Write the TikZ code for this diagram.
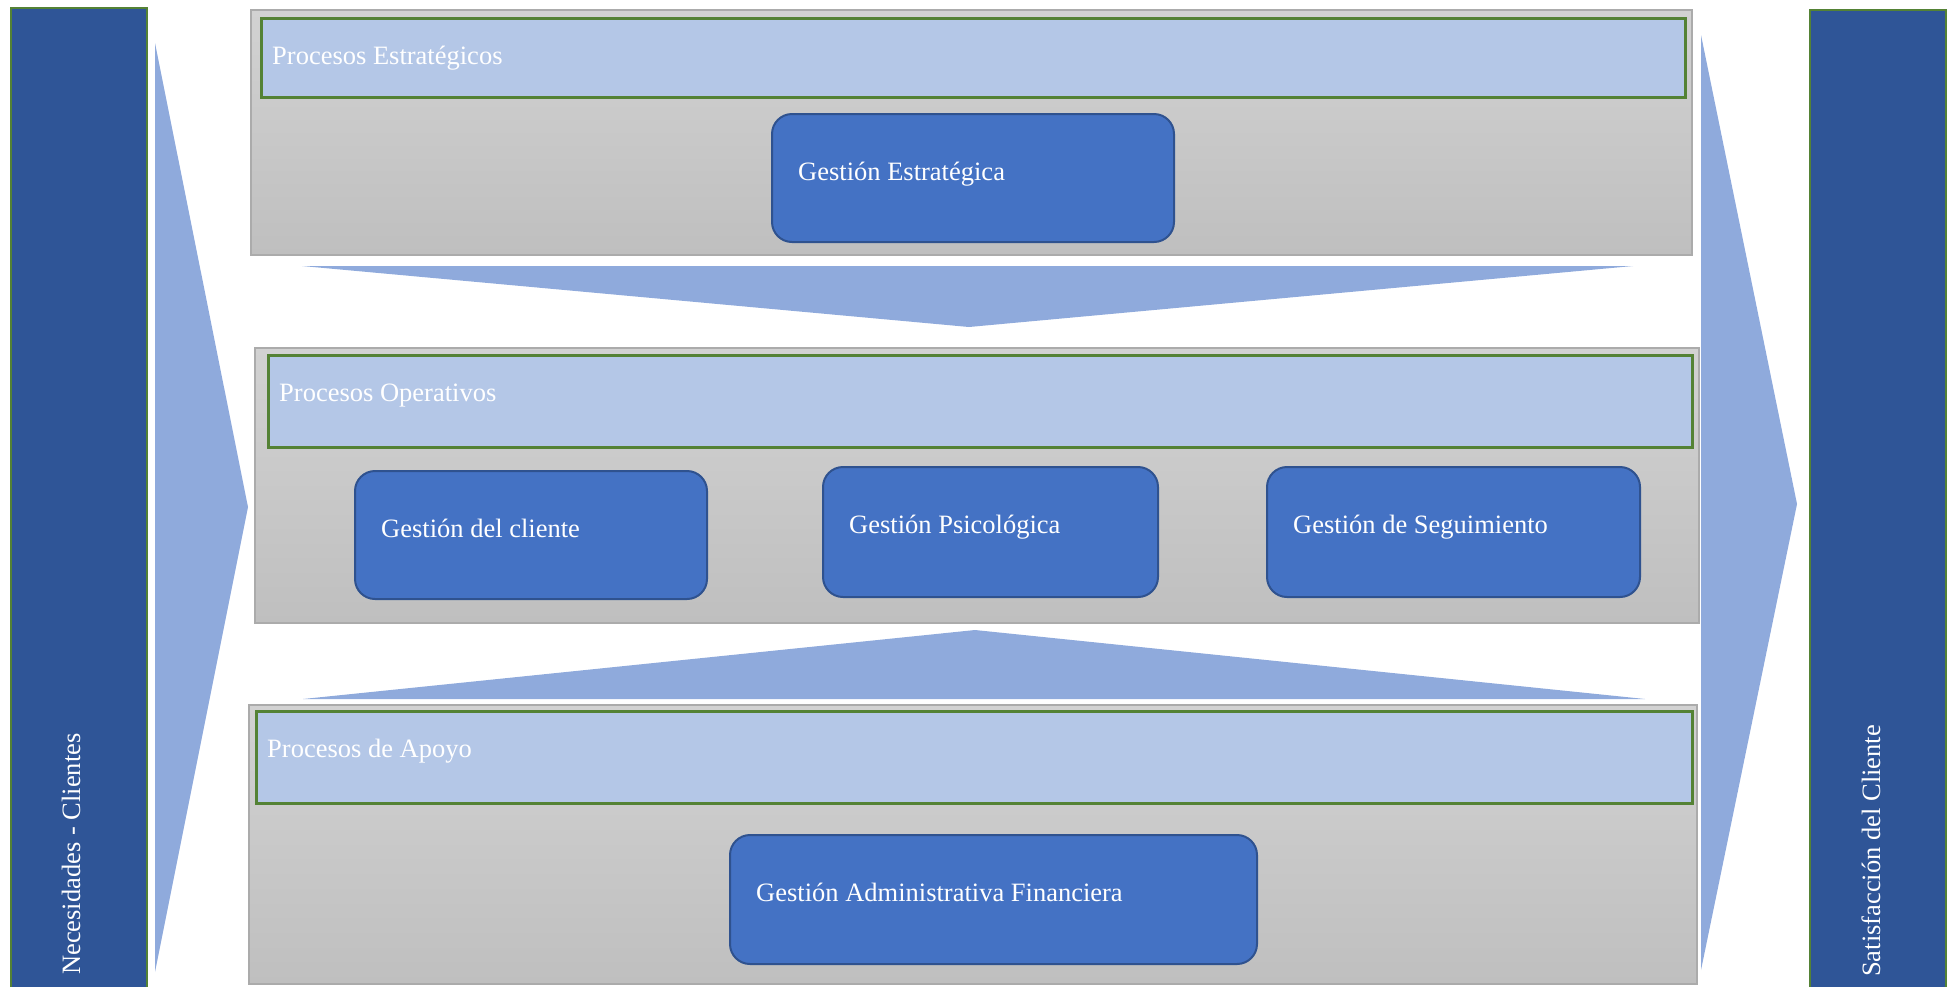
\documentclass[tikz,border=0pt]{standalone}
\usepackage{fontspec}
\setmainfont{Liberation Serif}
\definecolor{barblue}{HTML}{2F5597}
\definecolor{boxblue}{HTML}{4472C4}
\definecolor{boxedge}{HTML}{2F528F}
\definecolor{bandblue}{HTML}{B4C7E7}
\definecolor{chevblue}{HTML}{8FAADC}
\definecolor{edgegreen}{HTML}{548235}
\definecolor{paneltop}{HTML}{D2D2D2}
\definecolor{panelbot}{HTML}{BFBFBF}
\definecolor{paneledge}{HTML}{ABABAB}

\begin{document}
\begin{tikzpicture}[x=1pt, y=-1pt, font=\fontsize{26.5}{30}\selectfont, text=white,
	    sidebar/.style={fill=barblue, draw=edgegreen, line width=2pt, anchor=north west, minimum width=136pt, inner sep=0pt},
	    chevron/.style={fill=chevblue},
	    panel/.style={top color=paneltop, bottom color=panelbot, draw=paneledge, line width=1.5pt, anchor=north west, inner sep=0pt},
	    band/.style={fill=bandblue, draw=edgegreen, line width=2.5pt, anchor=north west, inner sep=0pt},
	    gestion/.style={fill=boxblue, draw=boxedge, line width=2pt, rounded corners=20pt, anchor=north west, inner sep=0pt},
	    gtext/.style={anchor=base west, inner sep=0pt}]
	    \useasboundingbox (0,0) rectangle (1950,986);

		% input and output bars
		\node[sidebar, minimum height=982pt] (needs) at (10,7) {};
		\node[gtext, rotate=90] (needsT) at (80,975) {Necesidades - Clientes};
		\node[sidebar, minimum height=980pt] (satis) at (1809,9) {};
		\node[gtext, rotate=90] (satisT) at (1880,977) {Satisfacción del Cliente};

		% chevrons
		\fill[chevron] (155,43) -- (248,507) -- (155,972) -- cycle;
		\fill[chevron] (1701,35) -- (1797,504) -- (1701,970) -- cycle;
		\fill[chevron] (302,266) -- (1633,266) -- (969,327) -- cycle;
		\fill[chevron] (303,699) -- (1645,699) -- (975,630) -- cycle;

		% strategic processes
		\node[panel, minimum width=1441pt, minimum height=245pt] (estP) at (250,9) {};
		\node[band, minimum width=1424pt, minimum height=79pt] (estB) at (260,17) {};
		\node[gtext] (estT) at ([xshift=12pt, yshift=-47pt]estB.north west) {Procesos Estratégicos};
		\node[gestion, minimum width=402pt, minimum height=128pt] (gEst) at (771,113) {};
		\node[gtext] (gEstT) at ([xshift=27pt, yshift=-67pt]gEst.north west) {Gestión Estratégica};

		% operative processes
		\node[panel, minimum width=1444pt, minimum height=275pt] (opP) at (254,347) {};
		\node[band, minimum width=1424pt, minimum height=92pt] (opB) at (267,354) {};
		\node[gtext] (opT) at ([xshift=12pt, yshift=-47pt]opB.north west) {Procesos Operativos};
		\node[gestion, minimum width=352pt, minimum height=128pt] (gCli) at (354,470) {};
		\node[gtext] (gCliT) at ([xshift=27pt, yshift=-67pt]gCli.north west) {Gestión del cliente};
		\node[gestion, minimum width=335pt, minimum height=130pt] (gPsi) at (822,466) {};
		\node[gtext] (gPsiT) at ([xshift=27pt, yshift=-67pt]gPsi.north west) {Gestión Psicológica};
		\node[gestion, minimum width=373pt, minimum height=130pt] (gSeg) at (1266,466) {};
		\node[gtext] (gSegT) at ([xshift=27pt, yshift=-67pt]gSeg.north west) {Gestión de Seguimiento};

		% support processes
		\node[panel, minimum width=1448pt, minimum height=279pt] (apP) at (248,704) {};
		\node[band, minimum width=1436pt, minimum height=92pt] (apB) at (255,710) {};
		\node[gtext] (apT) at ([xshift=12pt, yshift=-47pt]apB.north west) {Procesos de Apoyo};
		\node[gestion, minimum width=527pt, minimum height=129pt] (gAdm) at (729,834) {};
		\node[gtext] (gAdmT) at ([xshift=27pt, yshift=-67pt]gAdm.north west) {Gestión Administrativa Financiera};
	  \end{tikzpicture}
\end{document}
